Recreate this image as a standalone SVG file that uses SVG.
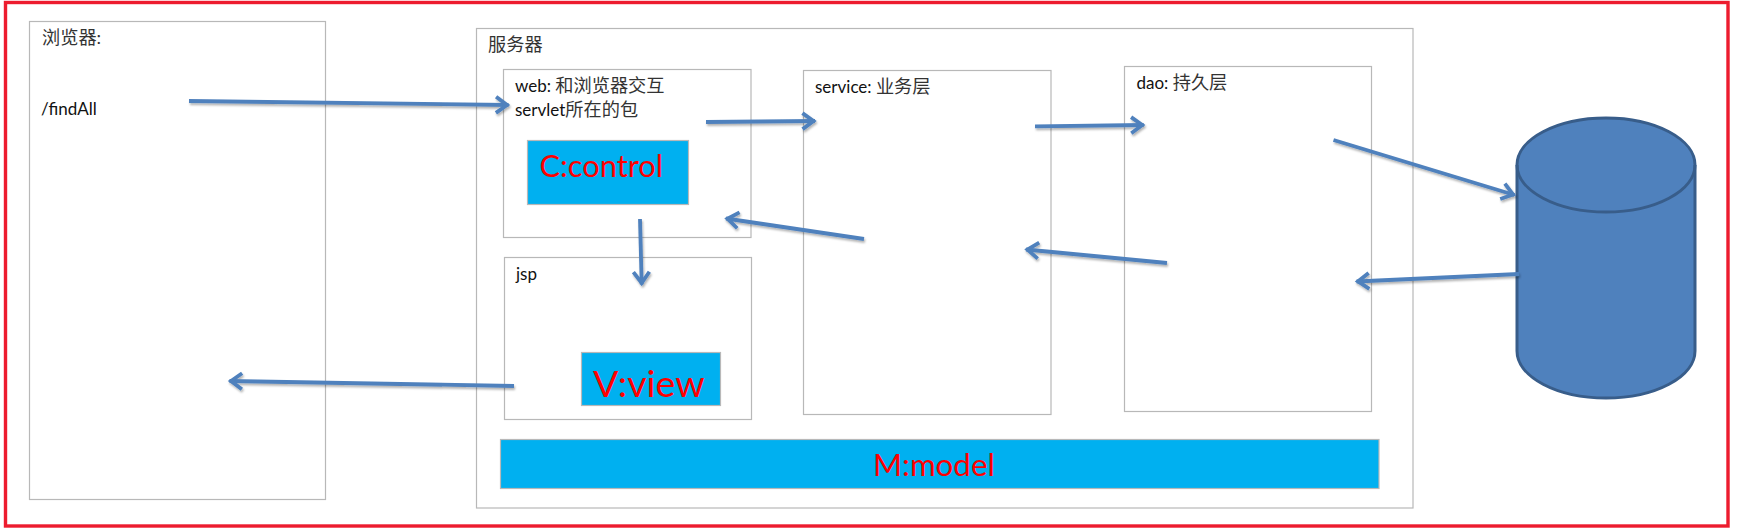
<svg xmlns="http://www.w3.org/2000/svg" width="1738" height="532" viewBox="0 0 1738 532">
<style>
.box{fill:none;stroke:#b8b8b8;stroke-width:1.2}
.fill{fill:#00b0f0;stroke:#b8b8b8;stroke-width:1.2}
text{font-family:Lato,"Noto Sans CJK SC",sans-serif;fill:#111}
.t{font-size:17px}
.cjk{font-size:18.2px;fill:#333}
.red{fill:#ff0000;font-size:30.8px}
.arrow{fill:none;stroke:#4f81bd;stroke-width:3.8;marker-end:url(#head)}
.db{fill:#4f81bd;stroke:#385d8a;stroke-width:3}
</style>
<defs>
<marker id="head" markerUnits="userSpaceOnUse" markerWidth="24" markerHeight="24" refX="19.5" refY="12" orient="auto" overflow="visible">
<path d="M7,4 L18,12 L7,20" fill="none" stroke="#4f81bd" stroke-width="3.8"/>
</marker>
<filter id="sh" x="-10%" y="-10%" width="120%" height="120%" filterUnits="objectBoundingBox">
<feDropShadow dx="1" dy="2" stdDeviation="1.3" flood-color="#000" flood-opacity="0.3"/>
</filter>
</defs>
<rect width="1738" height="532" fill="#fff"/>
<rect id="frame" x="5.5" y="2.5" width="1722.5" height="523.5" fill="none" stroke="#ed1c2e" stroke-width="3.4"/>
<g id="browser">
<rect class="box" x="29.5" y="21.5" width="296" height="478"/>
<text x="42" y="44" class="cjk">浏览器:</text>
<text x="41" y="115" class="t">/findAll</text>
</g>
<g id="server">
<rect class="box" x="476.5" y="28.5" width="936.5" height="479.5"/>
<text x="488" y="51" class="cjk">服务器</text>
</g>
<g id="web">
<rect class="box" x="503.5" y="69.5" width="247.5" height="168"/>
<text x="515" y="92" class="t">web: <tspan class="cjk">和浏览器交互</tspan></text>
<text x="515" y="116" class="t">servlet<tspan class="cjk">所在的包</tspan></text>
</g>
<g id="control">
<rect class="fill" x="527.5" y="140.5" width="161" height="64"/>
<text x="539.5" y="177" class="red">C:control</text>
</g>
<g id="jsp">
<rect class="box" x="504.5" y="257.5" width="247" height="162"/>
<text x="516" y="280" class="t">jsp</text>
</g>
<g id="view">
<rect class="fill" x="581.5" y="352.5" width="139" height="53"/>
<text x="593" y="397" class="red" style="font-size:37.5px">V:view</text>
</g>
<g id="service">
<rect class="box" x="803.5" y="70.5" width="247.5" height="344"/>
<text x="815" y="93" class="t">service: <tspan class="cjk">业务层</tspan></text>
</g>
<g id="dao">
<rect class="box" x="1124.5" y="66.5" width="247" height="345"/>
<text x="1136.5" y="89" class="t">dao: <tspan class="cjk">持久层</tspan></text>
</g>
<g id="model">
<rect class="fill" x="500.5" y="439.5" width="878.5" height="49"/>
<text x="873" y="476" class="red" style="font-size:31.3px">M:model</text>
</g>
<g id="database">
<path class="db" d="M1517,165 V351 A89,47 0 0 0 1695,351 V165 A89,47 0 0 0 1517,165 Z"/>
<path class="db" style="fill:none" d="M1517,165 A89,47 0 0 0 1695,165"/>
</g>
<g id="connectors" filter="url(#sh)">
<line class="arrow" x1="189" y1="101" x2="508.5" y2="105"/>
<line class="arrow" x1="514" y1="386" x2="229.5" y2="381"/>
<line class="arrow" x1="706" y1="122" x2="815" y2="121"/>
<line class="arrow" x1="640" y1="219" x2="641.7" y2="284.5"/>
<line class="arrow" x1="864" y1="239" x2="726" y2="218.5"/>
<line class="arrow" x1="1035" y1="126.3" x2="1143.7" y2="125"/>
<line class="arrow" x1="1167" y1="263" x2="1026" y2="249.5"/>
<line class="arrow" x1="1340" y1="140" x2="1521" y2="195" transform="translate(-6.5,0)"/>
<line class="arrow" x1="1519" y1="274" x2="1356.5" y2="281.5"/>
</g>
</svg>
